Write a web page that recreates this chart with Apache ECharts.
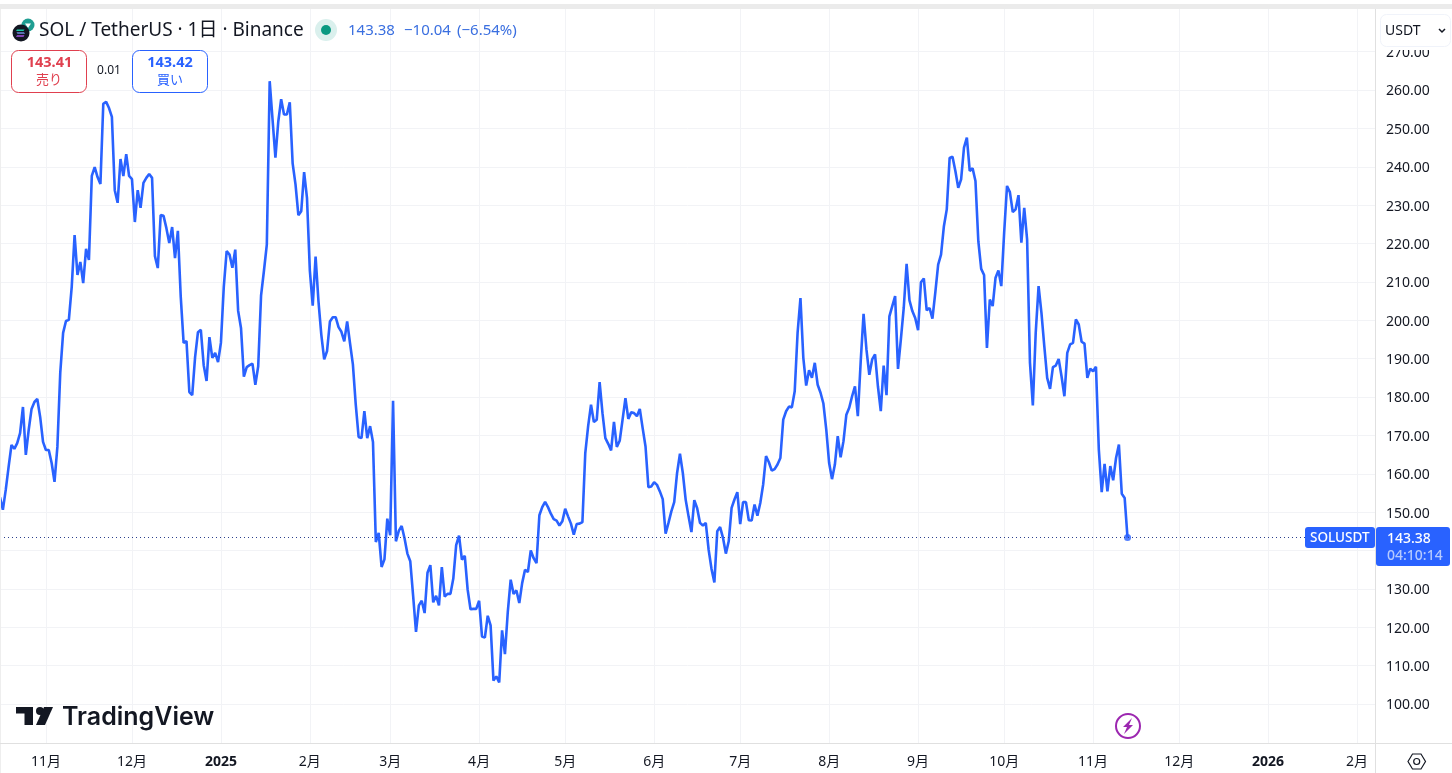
<!DOCTYPE html>
<html>
<head>
<meta charset="utf-8">
<title>SOLUSDT</title>
<style>
  html, body { margin: 0; padding: 0; background: #fff; overflow: hidden; }
  #chart { width: 1452px; height: 773px; }
</style>
</head>
<body>
<div id="chart"></div>
<script src="https://cdn.jsdelivr.net/npm/echarts@6/dist/echarts.min.js"></script>
<script>
var firstDay = '2024-10-16';
var closes = [
  153.9,150.6,155.8,161.8,167.5,166.5,168.0,170.6,177.4,164.9,
  171.4,176.9,178.7,179.5,174.8,168.3,166.2,166.2,162.8,157.9,
  167.0,186.3,196.7,199.8,200.1,208.7,222.2,211.8,215.2,209.7,
  218.6,215.7,237.6,239.9,237.3,235.5,256.4,256.9,255.3,253.0,
  233.9,230.6,242.0,237.6,243.3,237.6,236.8,225.6,233.9,229.3,
  235.8,237.1,238.1,237.1,216.7,213.6,227.4,227.2,224.0,220.1,
  224.3,216.2,223.3,206.1,194.1,194.6,181.3,180.5,190.4,196.9,
  197.5,188.3,184.2,195.6,190.2,191.5,189.1,194.1,208.7,218.0,
  217.1,213.7,218.4,202.5,198.0,185.3,187.8,188.3,188.7,183.2,
  188.0,206.5,212.9,219.7,262.3,252.3,242.4,251.8,257.6,253.6,
  253.6,256.8,240.9,235.4,227.4,228.4,238.6,231.9,212.9,203.8,
  216.6,205.0,196.2,189.8,192.0,199.7,200.8,200.8,198.2,197.0,
  194.5,199.7,194.0,188.5,178.0,169.6,169.3,176.3,169.3,172.4,
  168.3,142.2,144.6,135.7,137.7,148.3,144.0,179.0,142.4,145.1,
  146.4,143.2,139.2,137.2,128.2,118.8,125.7,126.9,123.7,134.2,
  136.2,126.5,128.2,125.7,135.7,128.0,128.7,128.7,132.7,141.4,
  143.9,137.6,138.6,129.8,124.7,124.8,124.8,126.9,117.6,117.3,
  123.0,120.5,106.1,107.2,105.6,119.2,113.0,124.1,132.4,128.7,
  129.6,126.3,131.5,135.0,134.4,140.0,138.0,136.7,149.2,151.3,
  152.7,151.3,149.6,148.2,147.8,146.5,147.6,150.9,148.9,147.0,
  144.1,146.9,147.0,147.4,165.4,172.4,178.0,173.5,174.1,183.9,
  175.8,169.3,167.8,166.1,173.5,167.0,168.6,174.1,179.7,174.3,
  176.0,175.8,175.0,176.9,171.9,167.1,156.5,156.7,157.8,157.1,
  155.4,153.4,144.4,147.2,150.2,152.6,160.2,165.2,160.2,153.2,
  148.9,144.8,153.1,151.0,147.2,146.5,147.2,140.2,135.2,131.7,
  145.0,146.1,143.3,139.2,142.4,151.1,153.3,155.2,146.9,152.6,
  152.6,147.9,147.8,152.0,149.1,152.4,157.2,164.6,163.0,160.8,
  161.2,162.4,164.1,174.1,176.3,177.5,177.3,181.5,196.7,205.8,
  190.2,183.0,187.0,185.0,188.9,183.2,181.1,178.3,171.5,162.8,
  158.6,162.4,169.8,164.3,168.5,175.4,177.2,180.2,182.8,175.0,
  189.3,201.7,192.4,185.8,189.8,191.1,182.8,176.3,188.2,180.5,
  201.0,203.7,206.3,187.3,195.0,203.2,214.7,205.2,202.4,200.6,
  197.4,209.9,210.9,202.6,203.2,200.4,207.2,214.5,217.1,224.5,
  228.9,242.3,242.6,238.9,234.5,236.7,245.0,247.6,238.9,239.6,
  236.3,220.6,213.4,211.8,192.8,205.4,203.7,211.1,213.0,208.9,
  222.8,235.0,233.4,228.2,228.9,232.6,220.2,229.3,221.1,188.9,
  177.8,196.7,208.9,201.9,193.2,185.0,182.1,187.8,188.2,189.9,
  185.4,180.2,191.5,193.7,194.1,200.2,198.9,194.4,193.9,185.0,
  187.4,186.7,187.9,166.3,155.2,162.6,155.4,162.0,158.3,164.1,
  167.6,154.8,153.7,143.38
];
var monthTicks = ['2024-11-01','2024-12-01','2025-01-01','2025-02-01','2025-03-01','2025-04-01','2025-05-01','2025-06-01',
  '2025-07-01','2025-08-01','2025-09-01','2025-10-01','2025-11-01','2025-12-01','2026-01-01','2026-02-01'];
var monthLabels = ['11月','12月','2025','2月','3月','4月','5月','6月','7月','8月','9月','10月','11月','12月','2026','2月'];
var priceTicks = [100,110,120,130,140,150,160,170,180,190,200,210,220,230,240,250,260,270];
var lastPrice = 143.38;

var DAY = 86400000;
var start = Date.parse(firstDay);
var lineData = closes.map(function (v, i) { return [start + i * DAY, v]; });
var tickTimes = monthTicks.map(function (d) { return Date.parse(d); });

var FONT = '"Noto Sans", "Noto Sans CJK JP", sans-serif';
var INK = '#131722';
var BLUE = '#2962ff';
var RED = '#e0404f';
var AXIS = '#e0e0e0';

function txt(x, y, s, size, fill, weight, align, family) {
  return {
    type: 'text', z: 101,
    style: { text: s, x: x, y: y, fill: fill || INK, align: align || 'left', verticalAlign: 'middle',
      font: (weight || 'normal') + ' ' + size + 'px ' + (family || FONT) }
  };
}
function box(x, y, w, h, r, fill, stroke) {
  return { type: 'rect', z: 100, shape: { x: x, y: y, width: w, height: h, r: r },
    style: { fill: fill, stroke: stroke || null, lineWidth: 1 } };
}
function poly(points, fill) {
  return { type: 'polygon', z: 101, shape: { points: points }, style: { fill: fill } };
}
function dot(x, y, r, fill, stroke) {
  return { type: 'circle', z: 101, shape: { cx: x, cy: y, r: r },
    style: { fill: fill, stroke: stroke || null, lineWidth: 2 } };
}

var overlay = [
  // top band and axis frames
  box(0, 4, 1452, 5, 0, '#ebebeb'),
  box(0, 9, 1, 764, 0, '#eeeeee'),
  box(1375, 9, 1, 764, 0, AXIS),
  box(0, 743, 1452, 1, 0, AXIS),
  // header
  dot(28, 25, 6.5, '#1f9e92'),
  poly([[25, 23.5], [31, 23.5], [28, 28]], '#ffffff'),
  dot(21, 33, 8.5, '#131722'),
  poly([[17, 29.5], [24.5, 29.5], [23.5, 31], [16, 31]], '#19c9a5'),
  poly([[16.5, 32.3], [24, 32.3], [25, 33.8], [17.5, 33.8]], '#6f8fe0'),
  poly([[17, 35.2], [24.5, 35.2], [23.5, 36.7], [16, 36.7]], '#a855e8'),
  txt(39, 31, 'SOL / TetherUS · 1日 · Binance', 19),
  dot(326, 30, 11, '#daf0ed'),
  dot(326, 30, 5, '#089981'),
  txt(348, 31, '143.38', 15, '#3a6fe0'),
  txt(404, 31, '−10.04', 15, '#3a6fe0'),
  txt(457, 31, '(−6.54%)', 15, '#3a6fe0'),
  box(11.5, 50.5, 75, 42, 7, '#fff', RED),
  txt(49.5, 62.5, '143.41', 14.5, RED, 'bold', 'center'),
  txt(49, 80, '売り', 13, RED, 'normal', 'center'),
  txt(109, 71, '0.01', 12, INK, 'normal', 'center'),
  box(132.5, 50.5, 75, 42, 7, '#fff', BLUE),
  txt(170, 62.5, '143.42', 14.5, BLUE, 'bold', 'center'),
  txt(170, 80, '買い', 13, BLUE, 'normal', 'center'),
  // currency button, its white margin cuts the top of the 270 label
  box(1377, 44, 75, 6, 0, '#fff'),
  box(1380.5, 14.5, 70, 32, 6, '#fff', '#f0f3fa'),
  txt(1385, 31, 'USDT', 14),
  { type: 'polyline', z: 101, shape: { points: [[1439, 29], [1442, 32], [1445, 29]] },
    style: { stroke: INK, lineWidth: 1.5, fill: null } },
  // last price labels
  box(1305, 527, 70, 21, 3, BLUE),
  txt(1310, 538, 'SOLUSDT', 13.5, '#fff', '500'),
  box(1376, 527, 74, 39, 3, BLUE),
  txt(1387, 539, '143.38', 14, '#fff', '500'),
  txt(1387, 556, '04:10:14', 14, '#b5caff', '500'),
  // logo
  poly([[16, 707], [33, 707], [33, 725], [24.5, 725], [24.5, 713.5], [16, 713.5]], '#131722'),
  dot(40, 711, 4, '#131722'),
  poly([[44, 707], [53, 707], [45, 725], [36, 725]], '#131722'),
  txt(62, 717, 'TradingView', 25, '#131722', '600', 'left', 'Inter'),
  // lightning badge
  dot(1128, 726, 12, '#fff', '#9c27b0'),
  poly([[1132, 718], [1123, 727], [1127, 727], [1124, 734], [1133, 725], [1129, 725]], '#9c27b0'),
  // settings icon
  { type: 'polygon', z: 101, shape: { points: [[1408, 761.5], [1412.5, 754], [1421, 754], [1425.5, 761.5], [1421, 769], [1412.5, 769]] },
    style: { fill: null, stroke: INK, lineWidth: 1.2 } },
  { type: 'circle', z: 101, shape: { cx: 1416.7, cy: 761.5, r: 3 }, style: { fill: null, stroke: INK, lineWidth: 1.2 } }
];

var chart = echarts.init(document.getElementById('chart'));
chart.setOption({
  animation: false,
  backgroundColor: '#fff',
  textStyle: { fontFamily: FONT },
  grid: { left: 0, top: 9, width: 1375, height: 734, containLabel: false },
  xAxis: {
    // timestamps on a value axis, the month ticks are custom anyway
    type: 'value',
    min: start,
    max: start + 479.26 * DAY,
    axisLine: { show: false },
    axisTick: { show: false, customValues: tickTimes },
    splitLine: { show: true, lineStyle: { color: '#f2f3f6', width: 1 } },
    axisLabel: {
      customValues: tickTimes,
      margin: 12,
      color: INK,
      fontSize: 14,
      hideOverlap: false,
      formatter: function (val) {
        var s = monthLabels[tickTimes.indexOf(val)];
        return /月/.test(s) ? s : '{y|' + s + '}';
      },
      rich: { y: { fontWeight: 'bold', fontSize: 14, color: INK } }
    }
  },
  yAxis: {
    type: 'value',
    position: 'right',
    min: 89.84,
    max: 281.11,
    axisLine: { show: false },
    axisTick: { show: false, customValues: priceTicks },
    splitLine: { show: true, lineStyle: { color: '#f2f3f6', width: 1 } },
    axisLabel: {
      customValues: priceTicks,
      margin: 11,
      // nudges the text about 1.5px below its gridline
      verticalAlign: 'top',
      lineHeight: 3,
      color: INK,
      fontSize: 14,
      formatter: function (val) { return val.toFixed(2); }
    }
  },
  series: [
    {
      type: 'line',
      data: lineData,
      showSymbol: false,
      smooth: false,
      lineStyle: { color: BLUE, width: 2.6 },
      markLine: {
        silent: true,
        symbol: 'none',
        label: { show: false },
        lineStyle: { color: '#2b3f8c', type: [1, 3], width: 1 },
        data: [{ yAxis: lastPrice }]
      }
    },
    {
      type: 'scatter',
      data: [lineData[lineData.length - 1]],
      symbolSize: 7,
      itemStyle: { color: BLUE }
    }
  ],
  graphic: { elements: overlay }
});
</script>
</body>
</html>
